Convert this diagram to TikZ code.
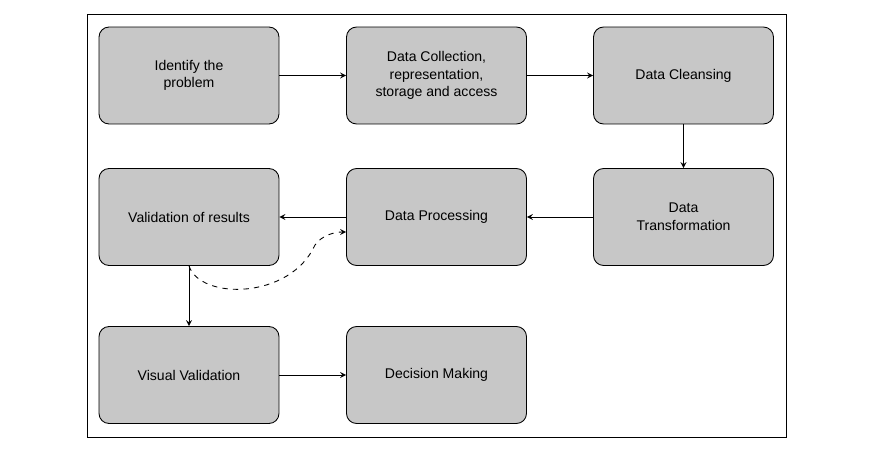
\documentclass[tikz,border=0pt]{standalone}
\usepackage{fontspec}
\setmainfont{Liberation Sans}
\begin{document}
\begin{tikzpicture}[x=0.02cm,y=-0.02cm,
    pnode/.style={draw,fill=black!22,rounded corners=0.2cm,minimum width=3.6cm,minimum height=1.94cm,align=center,font=\fontsize{8}{10}\selectfont,line width=0.5pt},
    parrow/.style={->,>=stealth,line width=0.5pt}]
    \useasboundingbox (0,0) rectangle (872,450);
    \draw[line width=0.5pt] (87,14) rectangle (786,437);
    \node[pnode] (ident) at (189,75.5) {Identify the\\problem};
    \node[pnode] (collect) at (436.5,75.5) {Data Collection,\\representation,\\storage and access};
    \node[pnode] (cleanse) at (683.5,75.5) {Data Cleansing};
    \node[pnode] (valid) at (189,217) {Validation of results};
    \node[pnode] (proc) at (436.5,217) {Data Processing};
    \node[pnode] (trans) at (683.5,217) {Data\\Transformation};
    \node[pnode] (visual) at (189,375) {Visual Validation};
    \node[pnode] (decide) at (436.5,375) {Decision Making};

    \draw[parrow] (ident) -- (collect);
    \draw[parrow] (collect) -- (cleanse);
    \draw[parrow] (cleanse) -- (trans);
    \draw[parrow] (trans) -- (proc);
    \draw[parrow] (proc) -- (valid);
    \draw[parrow] (valid) -- (visual);
    \draw[parrow] (visual) -- (decide);
    \draw[parrow,dashed] (valid.south) .. controls (200,300) and (290,300) .. (315,245)
        .. controls (322,235) and (335,232) .. (proc.west |- 0,232);
\end{tikzpicture}
\end{document}
